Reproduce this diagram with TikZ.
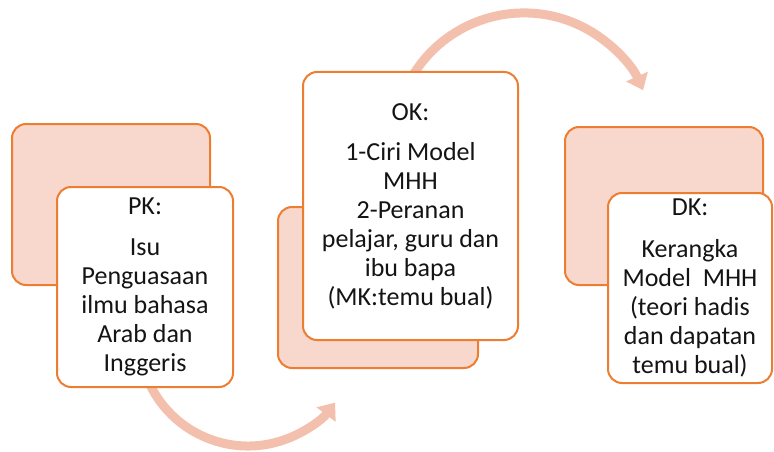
\documentclass[tikz,border=0pt]{standalone}
\usepackage{fontspec}
\setmainfont{Carlito}
\usetikzlibrary{arrows.meta}
\definecolor{orng}{HTML}{ED7D31}
\definecolor{pinkfill}{HTML}{F8D7CC}
\definecolor{arrowc}{HTML}{F4C0AE}
\definecolor{txt}{HTML}{141414}
\begin{document}
\begin{tikzpicture}[x=1pt,y=-1pt,
  backbox/.style={draw=orng, line width=2pt, fill=pinkfill, rounded corners=14pt, inner sep=0pt},
  frontbox/.style={draw=orng, line width=2pt, fill=white, rounded corners=14pt, align=center, inner sep=0pt, text=txt, font=\fontsize{26}{29}\selectfont},
  flow/.style={draw=arrowc, line width=9pt, -{Triangle[width=23pt,length=15pt]}}]
\useasboundingbox (0,0) rectangle (774,452);
% connector arrows (behind the boxes)
\coordinate (a1s) at (145.6,374.3);
\coordinate (a2s) at (411.2,78.1);
\draw[flow] (a1s) arc[start angle=160, end angle=37, radius=109];
\draw[flow] (a2s) arc[start angle=-150, end angle=-24, radius=130.3];
% group 1
\node[backbox, minimum width=198pt, minimum height=161pt] (b1) at (111,204.5) {};
\node[frontbox, minimum width=176pt, minimum height=200pt] (f1) at (145,287)
  {PK:\\[12pt]Isu\\Penguasaan\\ilmu bahasa\\Arab dan\\Inggeris};
% group 2
\node[backbox, minimum width=200pt, minimum height=161pt] (b2) at (378,287.5) {};
\node[frontbox, minimum width=215pt, minimum height=268pt] (f2) at (410.5,206)
  {OK:\\[11pt]1-Ciri Model\\MHH\\2-Peranan\\pelajar, guru dan\\ibu bapa\\(MK:temu bual)};
% group 3
\node[backbox, minimum width=198pt, minimum height=158pt] (b3) at (664,206) {};
\node[frontbox, minimum width=164pt, minimum height=190pt] (f3) at (690,288)
  {DK:\\[13pt]Kerangka\\Model\ \ MHH\\(teori hadis\\dan dapatan\\temu bual)};
\end{tikzpicture}
\end{document}
